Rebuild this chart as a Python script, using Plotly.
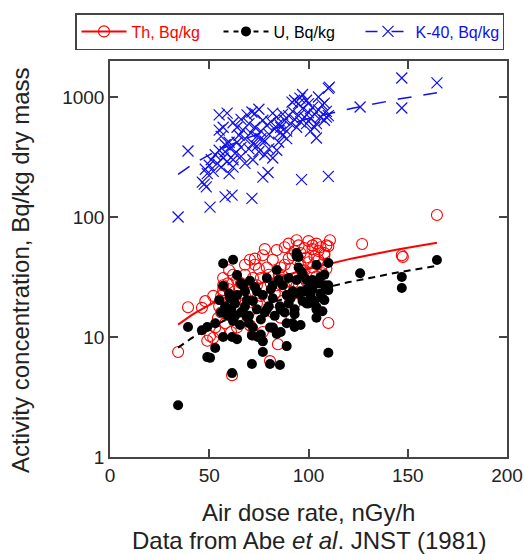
import numpy as np
import plotly.graph_objects as go

# ---------------- data ----------------
th_x = [34.3,39.3,46.3,48,50.4,49,52,61.5,80.6,84.6,110,127,147,147.5,164.7,110.8,109,94,95,100,102,98,104,106,
        57,57,59.4,70.5,77,82,84,92,93,88,
        62,68,72,60,65,70,80,84,89,91,97,104,109,
        54.4,58,64,70.5,77,72,82,86,
        53,55,56,60,63,66,68,74,76,78,80,83,86,88,90,92,94,96,98,100,102,105,107,108,90,86,75,73,66,62,58,56,52,55,
        61,64,67,70,74,76,79,81,85,87,89,91,93,95,97,99,101,103,105,107,96,99,88,90,78,73,68,64,60,57,102,108,110]
th_y = [7.5,17.7,17.5,19.9,10.2,9.3,9.8,4.8,6.3,8.7,13.1,59.6,48,46.5,104,64,58,64,58,63,58,55,60,56,
        31,24.6,28,44,48,44,53,48,52,40,
        33,33,31,25,25,24,33,27,29,37,33,32,37,
        14.4,13,14.4,12.5,11,10.5,16,14.5,
        12,11,16,18,20,17,22,19,22,26,21,23,30,26,22,28,31,40,36,42,38,44,40,48,45,38,37,40,28,21,20,22,22,18,
        11,12,19,16,27,31,38,28,33,20,17,24,19,26,22,29,26,47,52,34,50,46,56,60,54,45,40,30,36,27,54,50,57]

u_x = [34.3,39.3,46.3,49,49,50.4,53,61.5,71.5,80.6,85.6,77,110,126,147,147,164.7,110,110,110,108,104,94,95,93,82,71.5,74.5,
       64,70.5,84,94,104,57,60.5,64,69,74,77,82,82,89,92,94,96.5,102,106,108,
       57,59.4,62,65.5,69,72,76,80.6,82,84,57,61.5,64,75.5,77,89,93,96,104,107,85.6,
       55,58,61,63,66,68,70,72,74,76,78,80,83,86,88,90,91,93,95,97,98,99,100,101,102,103,105,106,107,108,
       99,97,95,90,87,85,81,79,73,67,66,60,56,53,63,70,86,92,100,104,96,62,68,79,89]
u_y = [2.7,12.1,11.4,12.1,6.8,6.7,8.1,5.0,5.95,5.95,5.84,7.5,7.4,34,31.6,25.6,43.8,41.4,27,24.6,20.3,17.8,50,46.4,12.1,11.9,10.3,10,
       32.9,29.4,36.2,47,39.8,41,21,22.4,20.3,24,22.4,21,27,22.4,24,29.9,35,29.9,31.6,33,26.7,
       15,13.6,12.6,14.6,12,10.5,12,12,10.6,10,10,9.6,10.1,9.2,8.4,15.5,12.6,14.5,16.4,18,20.3,
       18,17,19,16,18,15,20,17,14,16,18,15,17,16,19,21,17,23,20,24,19,26,22,25,20,28,23,21,27,30,
       33,38,31,27,30,25,31,26,27,28,23,16,13,15,13,11,13,19,17,24,44,24,17,13,22]

k_x = [34.3,39.3,50.4,46.5,48.5,47.5,58,61.5,71.5,96.5,110,110,110.5,126,147,147,164.7,104,108,109,77,79.6,
       48,49,50,51,52,53,54,55,56,57,58,59,55,56,57,55,59,60,58,60,62,63,61,62,
       64,65,66,67,68,69,70,71,71.5,72,73,74,75,76,77,78,79,80,66,68,70,72,74,76,78,80,62,64,66,73,75,
       82,81,83,84,85,86,87,88,89,90,91,91.7,92,93,93,94,95.7,95,96,97,98,99,99,100,85,87,89,84,82,86,
       101,102,103,104,105,106,107,108,109,110,101,103,105,97,95,100]
k_y = [100,355,121,195,178,188,147,152,143,205,218,1180,1210,826,1440,810,1310,455,890,680,215,235,
       250,230,270,300,240,330,280,360,260,310,400,290,530,470,560,710,735,420,350,230,260,340,380,300,
       420,480,380,530,450,710,600,500,750,410,560,470,350,520,640,430,580,490,320,280,370,300,390,450,330,370,610,560,650,730,790,
       735,620,540,680,600,560,720,640,520,700,600,905,760,940,650,560,980,700,620,800,680,940,600,740,420,480,450,360,310,510,
       660,820,720,600,780,680,860,640,760,700,520,560,1000,1050,880,880]

# fitted proportional trend lines (slope, x-range)
th_slope = 0.37
u_slope = 0.238
k_slope = 6.6
fit_x_range = [34.3, 164.7]

x_ticks = [0, 50, 100, 150, 200]
y_ticks = [1, 10, 100, 1000]

# ---------------- styles ----------------
RED = "#ff0000"
BLACK = "#000000"
BLUE = "#1010ee"
FONT = "Liberation Sans, Arial, sans-serif"

fx = np.linspace(fit_x_range[0], fit_x_range[1], 60)

fig = go.Figure()

# K-40
fig.add_trace(go.Scatter(x=k_x, y=k_y, mode="markers", showlegend=False,
                         marker=dict(symbol="x-thin-open", size=11, line=dict(color=BLUE, width=1.2), color=BLUE)))
fig.add_trace(go.Scatter(x=fx, y=k_slope * fx, mode="lines", showlegend=False,
                         line=dict(color=BLUE, width=1.5, dash="14px,12px")))
# Th
fig.add_trace(go.Scatter(x=th_x, y=th_y, mode="markers", showlegend=False,
                         marker=dict(symbol="circle-open", size=11, line=dict(color=RED, width=1.1), color=RED)))
fig.add_trace(go.Scatter(x=fx, y=th_slope * fx, mode="lines", showlegend=False,
                         line=dict(color=RED, width=2)))
# U
fig.add_trace(go.Scatter(x=u_x, y=u_y, mode="markers", showlegend=False,
                         marker=dict(symbol="circle", size=10, color=BLACK)))
fig.add_trace(go.Scatter(x=fx, y=u_slope * fx, mode="lines", showlegend=False,
                         line=dict(color=BLACK, width=2, dash="7px,5px")))

# legend entries
fig.add_trace(go.Scatter(x=[None], y=[None], mode="lines+markers",
                         name="<span style='color:#ff0000'>Th, Bq/kg</span>",
                         line=dict(color=RED, width=2),
                         marker=dict(symbol="circle-open", size=11, line=dict(color=RED, width=1.1))))
fig.add_trace(go.Scatter(x=[None], y=[None], mode="lines+markers",
                         name="<span style='color:#000000'>U, Bq/kg</span>",
                         line=dict(color=BLACK, width=2, dash="5px,5px"),
                         marker=dict(symbol="circle", size=10, color=BLACK)))
fig.add_trace(go.Scatter(x=[None], y=[None], mode="lines+markers",
                         name="<span style='color:#1010ee'>K-40, Bq/kg</span>",
                         line=dict(color=BLUE, width=1.5, dash="12px,14px"),
                         marker=dict(symbol="x-thin-open", size=11, line=dict(color=BLUE, width=1.2))))

axis_common = dict(showline=True, linecolor="#444444", linewidth=1.5, mirror="ticks",
                   ticks="inside", ticklen=8, tickwidth=1.5, tickcolor="#444444",
                   showgrid=False, zeroline=False, automargin=False,
                   tickfont=dict(family=FONT, size=19, color="#222222"))

fig.update_xaxes(range=[0, 200], tickvals=x_ticks, ticktext=[str(v) for v in x_ticks], **axis_common)
fig.update_yaxes(type="log", range=[0, 3.3], tickvals=y_ticks, ticktext=[str(v) for v in y_ticks],
                 **axis_common)

fig.update_layout(
    width=524, height=554,
    margin=dict(l=110, r=17, t=61, b=97, autoexpand=False),
    plot_bgcolor="white", paper_bgcolor="white",
    font=dict(family=FONT, size=16, color="#222222"),
    legend=dict(orientation="h", x=(75 - 110) / 397, xanchor="left", y=(457 - 13) / 396, yanchor="top",
                bordercolor="#444444", borderwidth=1.5, bgcolor="white",
                font=dict(family=FONT, size=16), itemwidth=45,
                entrywidth=82, entrywidthmode="pixels", tracegroupgap=0),
    annotations=[
        dict(text="Air dose rate, nGy/h", x=0.5, y=-0.139, xref="paper", yref="paper",
             xanchor="center", yanchor="middle", showarrow=False,
             font=dict(family=FONT, size=24, color="#222222")),
        dict(text="Data from Abe <i>et al</i>. JNST (1981)", x=0.5, y=-0.212, xref="paper", yref="paper",
             xanchor="center", yanchor="middle", showarrow=False,
             font=dict(family=FONT, size=24, color="#222222")),
        dict(text="Activity concentration, Bq/kg dry mass", x=-0.227, y=0.472, xref="paper", yref="paper",
             xanchor="center", yanchor="middle", showarrow=False, textangle=-90,
             font=dict(family=FONT, size=24, color="#222222")),
    ],
)

fig.write_html("out.html")
